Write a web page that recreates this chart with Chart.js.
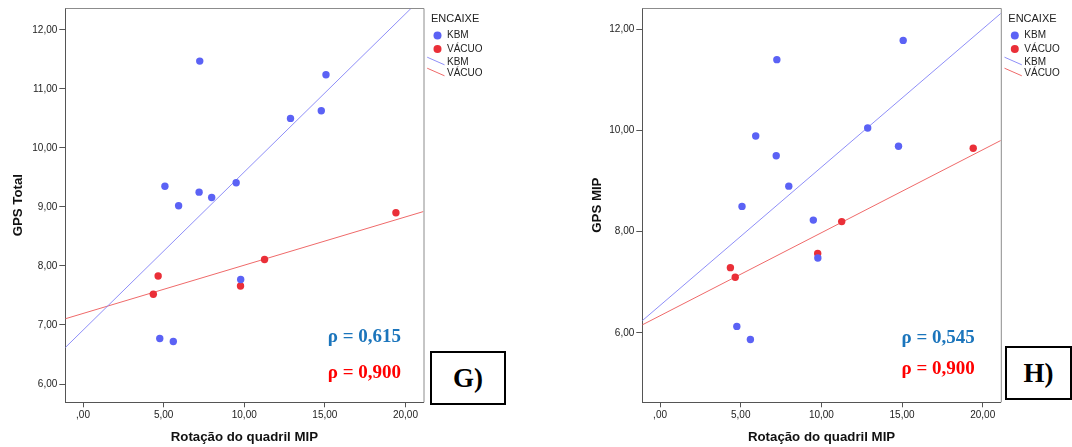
<!DOCTYPE html>
<html>
<head>
<meta charset="utf-8">
<title>GPS x Rotação do quadril MIP</title>
<script src="https://cdn.jsdelivr.net/npm/chart.js@4"></script>
<style>
  body { margin: 0; background: #fff; width: 1072px; height: 447px; overflow: hidden; position: relative; }
  .painel { position: absolute; top: 0; width: 536px; height: 447px; }
  .letra {
    position: absolute; box-sizing: border-box; border: 2px solid #000; background: #fff;
    font: bold 27px "Liberation Serif", "Times New Roman", serif;
    display: flex; align-items: center; justify-content: center;
  }
</style>
</head>
<body>
<canvas id="grafico_g" class="painel" style="left:0" width="536" height="447"></canvas>
<canvas id="grafico_h" class="painel" style="left:536px" width="536" height="447"></canvas>
<div class="letra" style="left:430px;top:351px;width:76px;height:54px">G)</div>
<div class="letra" style="left:1005px;top:346px;width:67px;height:54px">H)</div>

<script>
// Rotação do quadril MIP (eixo x), por encaixe
const rotacaoKBM = [4.76, 5.08, 5.60, 5.93, 7.20, 7.24, 7.98, 9.50, 9.78, 12.87, 14.78, 15.07];
const rotacaoVacuo = [4.36, 4.66, 9.77, 11.26, 19.41];

// GPS Total (G) e GPS MIP (H), mesma ordem dos arrays acima
const gpsTotalKBM = [6.77, 9.35, 6.72, 9.02, 9.25, 11.47, 9.16, 9.41, 7.77, 10.50, 10.63, 11.24];
const gpsTotalVacuo = [7.52, 7.83, 7.66, 8.11, 8.90];
const gpsMipKBM = [6.13, 8.50, 5.87, 9.89, 9.50, 11.40, 8.90, 8.23, 7.48, 10.05, 9.69, 11.78];
const gpsMipVacuo = [7.29, 7.10, 7.57, 8.20, 9.65];

const grupos = ['KBM', 'VÁCUO'];
const rhoG = ['0,615', '0,900'];
const rhoH = ['0,545', '0,900'];

const ticksX = [0, 5, 10, 15, 20];
const ticksG = [6, 7, 8, 9, 10, 11, 12];
const ticksH = [6, 8, 10, 12];

const X_MIN = -1.1, X_MAX = 21.12;

const corKBM = '#5b62f5';
const corVacuo = '#ea2f38';
const linhaKBM = '#8f8ff8';
const linhaVacuo = '#ef6a6a';

Chart.defaults.font.family = '"Liberation Sans", Arial, sans-serif';

// formato SPSS: 5,00 / ,00
function virgula(v) {
  const s = Number(v).toFixed(2).replace('.', ',');
  return s.startsWith('0,') ? s.slice(1) : s;
}

// reta de mínimos quadrados
function ajusteLinear(xs, ys) {
  const n = xs.length;
  const mx = xs.reduce((s, v) => s + v, 0) / n;
  const my = ys.reduce((s, v) => s + v, 0) / n;
  let sxy = 0, sxx = 0;
  for (let i = 0; i < n; i++) {
    sxy += (xs[i] - mx) * (ys[i] - my);
    sxx += (xs[i] - mx) * (xs[i] - mx);
  }
  const b = sxy / sxx;
  const a = my - b * mx;
  return [{ x: X_MIN, y: a + b * X_MIN }, { x: X_MAX, y: a + b * X_MAX }];
}

const pares = (xs, ys) => xs.map((x, i) => ({ x: x, y: ys[i] }));

// moldura, legenda ENCAIXE e valores de rho
const extras = {
  id: 'extras',
  afterDraw(chart, args, op) {
    const { ctx, chartArea: a } = chart;
    ctx.save();
    ctx.strokeStyle = '#8c8c8c';
    ctx.lineWidth = 1;
    ctx.beginPath();
    ctx.moveTo(a.left, a.top + 0.5);
    ctx.lineTo(a.right + 0.5, a.top + 0.5);
    ctx.lineTo(a.right + 0.5, a.bottom);
    ctx.stroke();

    const lx = a.right;
    ctx.fillStyle = '#222';
    ctx.textBaseline = 'middle';
    ctx.textAlign = 'left';
    ctx.font = '11px "Liberation Sans", Arial, sans-serif';
    ctx.fillText('ENCAIXE', lx + 7.5, 18.5);

    ctx.font = '10px "Liberation Sans", Arial, sans-serif';
    const cores = [corKBM, corVacuo];
    const linhas = [linhaKBM, linhaVacuo];
    [35.5, 49].forEach((y, i) => {
      ctx.fillStyle = cores[i];
      ctx.beginPath();
      ctx.arc(lx + 14, y, 4, 0, Math.PI * 2);
      ctx.fill();
      ctx.fillStyle = '#222';
      ctx.fillText(grupos[i], lx + 23.5, y);
    });
    [62, 73].forEach((y, i) => {
      ctx.strokeStyle = linhas[i];
      ctx.beginPath();
      ctx.moveTo(lx + 3.7, y - 4.8);
      ctx.lineTo(lx + 21, y + 2.8);
      ctx.stroke();
      ctx.fillStyle = '#222';
      ctx.fillText(grupos[i], lx + 23.5, y);
    });

    ctx.font = 'bold 19px "Liberation Serif", "Times New Roman", serif';
    ctx.textAlign = 'right';
    ctx.fillStyle = '#1b75bc';
    ctx.fillText('ρ = ' + op.rho[0], a.right - op.dx, op.y1);
    ctx.fillStyle = '#ff0000';
    ctx.fillText('ρ = ' + op.rho[1], a.right - op.dx, op.y2);
    ctx.restore();
  }
};

function criaGrafico(id, cfg) {
  const canvas = document.getElementById(id);
  return new Chart(canvas.getContext('2d'), {
    type: 'scatter',
    data: {
      datasets: [
        { label: 'KBM', data: pares(rotacaoKBM, cfg.kbm), backgroundColor: corKBM, borderWidth: 0, pointRadius: 3.7, order: 0 },
        { label: 'VÁCUO', data: pares(rotacaoVacuo, cfg.vacuo), backgroundColor: corVacuo, borderWidth: 0, pointRadius: 3.7, order: 0 },
        { type: 'line', label: 'KBM', data: ajusteLinear(rotacaoKBM, cfg.kbm), borderColor: linhaKBM, borderWidth: 1, pointRadius: 0, order: 1 },
        { type: 'line', label: 'VÁCUO', data: ajusteLinear(rotacaoVacuo, cfg.vacuo), borderColor: linhaVacuo, borderWidth: 1, pointRadius: 0, order: 1 }
      ]
    },
    options: {
      responsive: false,
      animation: false,
      layout: { padding: { left: 0, top: cfg.top, right: cfg.direita, bottom: 0 } },
      plugins: {
        legend: { display: false },
        tooltip: { enabled: false },
        extras: { rho: cfg.rho, dx: cfg.dx, y1: cfg.y1, y2: cfg.y2 }
      },
      scales: {
        x: {
          type: 'linear', min: X_MIN, max: X_MAX,
          afterBuildTicks: s => { s.ticks = ticksX.map(v => ({ value: v })); },
          afterFit: s => { s.height = 44.7; },
          ticks: { callback: virgula, color: '#222', font: { size: 10 }, padding: 2, maxRotation: 0 },
          grid: { drawOnChartArea: false, tickLength: 5, color: '#555' },
          border: { color: '#555' },
          title: { display: true, text: 'Rotação do quadril MIP', color: '#111', font: { size: 13.25, weight: 'bold' }, padding: { top: 0, bottom: 1.75 } }
        },
        y: {
          type: 'linear', min: cfg.yMin, max: cfg.yMax,
          afterBuildTicks: s => { s.ticks = cfg.ticks.map(v => ({ value: v })); },
          afterFit: s => { s.width = cfg.largY; },
          ticks: { callback: virgula, color: '#222', font: { size: 10 }, padding: 2 },
          grid: { drawOnChartArea: false, tickLength: 6, color: '#555' },
          border: { color: '#555' },
          title: { display: true, text: cfg.tituloY, color: '#111', font: { size: 13.25, weight: 'bold' }, padding: { top: cfg.padTitulo, bottom: 0 } }
        }
      }
    },
    plugins: [extras]
  });
}

document.addEventListener('DOMContentLoaded', () => {
  //G) GPS Total
  criaGrafico('grafico_g', {
    kbm: gpsTotalKBM, vacuo: gpsTotalVacuo, ticks: ticksG,
    yMin: 5.69, yMax: 12.37, tituloY: 'GPS Total',
    top: 4.7, direita: 112.5, largY: 65.3, padTitulo: 10.4,
    rho: rhoG, dx: 22.5, y1: 337.5, y2: 372.7
  });
  //H) GPS MIP
  criaGrafico('grafico_h', {
    kbm: gpsMipKBM, vacuo: gpsMipVacuo, ticks: ticksH,
    yMin: 4.63, yMax: 12.42, tituloY: 'GPS MIP',
    top: 5, direita: 71.2, largY: 106.3, padTitulo: 53.4,
    rho: rhoH, dx: 26, y1: 338.3, y2: 369.3
  });
});
</script>
</body>
</html>
